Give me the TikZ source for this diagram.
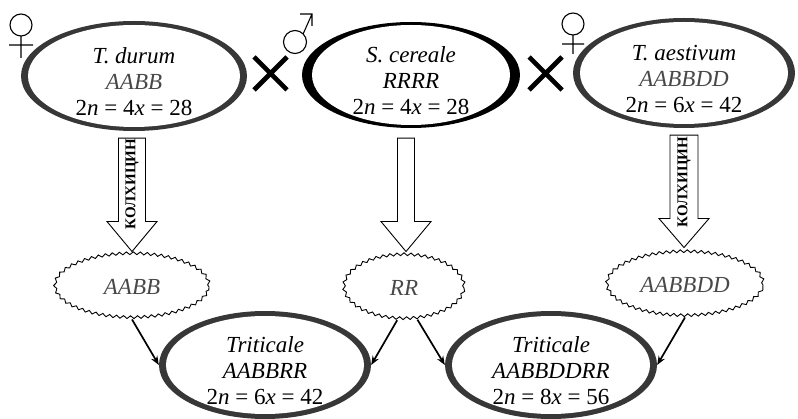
\documentclass[tikz,border=0pt]{standalone}
\usepackage{fontspec}
\setmainfont{Liberation Serif}[Ligatures=TeX]
\usetikzlibrary{shapes.geometric, decorations.pathmorphing, arrows.meta, calc}

\definecolor{ringdark}{RGB}{55,55,55}
\definecolor{genome}{RGB}{72,72,72}

\begin{document}
\begin{tikzpicture}[x=1pt, y=-1pt,
  ring/.style={ellipse, inner sep=0pt, fill=#1},
  maintext/.style={align=center, inner sep=0pt, font=\fontsize{23}{26}\selectfont},
  wavy/.style={ellipse, inner sep=0pt, draw=black, line width=0.9pt,
    decorate, decoration={snake, amplitude=1.4pt, segment length=7pt},
    font=\fontsize{23}{26}\selectfont\itshape, text=genome},
  blockarrow/.style={draw=black, line width=0.9pt, fill=white, line join=miter},
  colch/.style={rotate=90, inner sep=0pt, font=\fontsize{15}{15}\selectfont\bfseries},
  conn/.style={draw=black, line width=1.7pt, -{Stealth[length=9pt, width=7pt]}},
  sexsym/.style={draw=black, line width=1.1pt},
  crossmark/.style={draw=black, line width=4.6pt}
]
\useasboundingbox (0,0) rectangle (798,419);

% ---- parent species (top row) ----
\node[ring=ringdark, minimum width=226pt, minimum height=110pt] (durum) at (134,76) {};
\fill[white] (durum.center) ellipse [x radius=106pt, y radius=51pt];
\node[maintext] at ($(durum.center)+(0,6)$) {\itshape T. durum\\\itshape\color{genome}AABB\\2\textit{n} = 4\textit{x} = 28};

\node[ring=black, minimum width=218pt, minimum height=106pt] (cereale) at (411,75) {};
\fill[white] (cereale.center) ellipse [x radius=99pt, y radius=50pt];
\node[maintext] at ($(cereale.center)+(0,6)$) {\itshape S. cereale\\\itshape RRRR\\2\textit{n} = 4\textit{x} = 28};

\node[ring=ringdark, minimum width=222pt, minimum height=110pt] (aestivum) at (684,73) {};
\fill[white] (aestivum.center) ellipse [x radius=104pt, y radius=51pt];
\node[maintext] at ($(aestivum.center)+(0,6)$) {\itshape T. aestivum\\\itshape\color{genome}AABBDD\\2\textit{n} = 6\textit{x} = 42};

% ---- cross marks ----
\draw[crossmark] (254,57) -- (287,90) (254,90) -- (287,57);
\draw[crossmark] (529,57) -- (562,90) (529,90) -- (562,57);

% ---- sex symbols ----
\draw[sexsym] (21,25) circle [radius=11pt] (21,36) -- (21,58) (9,45) -- (33,45);
\draw[sexsym] (573,24) circle [radius=11pt] (573,35) -- (573,54) (562,44) -- (584,44);
\draw[sexsym] (295,42) circle [radius=11.5pt]
  ($(295,42)+(8.2,-8.2)$) -- (312,14) (300,14) -- (312,14) -- (312,26);

% ---- gametes / doubled genomes (middle row) ----
\node[wavy, minimum width=154pt, minimum height=64pt] (aabb) at (132,287) {AABB};
\node[wavy, minimum width=120pt, minimum height=64pt] (rr) at (404,288) {RR};
\node[wavy, minimum width=156pt, minimum height=64pt] (aabbdd) at (685,285) {AABBDD};

% ---- block arrows ----
\draw[blockarrow] let \p1=($(durum.south)+(-2,7)$), \p2=($(aabb.north)+(0,-3)$) in
  (\x1-13.5pt,\y1) -- (\x1+13.5pt,\y1) -- (\x1+13.5pt,\y2+30pt) -- (\x1+25pt,\y2+30pt)
  -- (\x1,\y2) -- (\x1-25pt,\y2+30pt) -- (\x1-13.5pt,\y2+30pt) -- cycle;
\node[colch] (colchA) at (132,184) {КОЛХИЦИН};

\draw[blockarrow] let \p1=($(cereale.south)+(-5,10)$), \p2=($(rr.north)+(0,-4)$) in
  (\x1-8.5pt,\y1) -- (\x1+8.5pt,\y1) -- (\x1+8.5pt,\y2+30pt) -- (\x1+25pt,\y2+30pt)
  -- (\x1,\y2) -- (\x1-25pt,\y2+30pt) -- (\x1-8.5pt,\y2+30pt) -- cycle;

\draw[blockarrow] let \p1=($(aestivum.south)+(0,7)$), \p2=($(aabbdd.north)+(0,-5)$) in
  (\x1-14pt,\y1) -- (\x1+14pt,\y1) -- (\x1+14pt,\y2+29pt) -- (\x1+25pt,\y2+29pt)
  -- (\x1,\y2) -- (\x1-25pt,\y2+29pt) -- (\x1-14pt,\y2+29pt) -- cycle;
\node[colch] (colchB) at (684,182) {КОЛХИЦИН};

% ---- triticale hybrids (bottom row) ----
\node[ring=ringdark, minimum width=212pt, minimum height=108pt] (tritA) at (265,365) {};
\fill[white] (tritA.center) ellipse [x radius=99pt, y radius=49pt];
\node[maintext] at ($(tritA.center)+(0,6)$) {\itshape Triticale\\\itshape AABBRR\\2\textit{n} = 6\textit{x} = 42};

\node[ring=ringdark, minimum width=212pt, minimum height=108pt] (tritB) at (551,365) {};
\fill[white] (tritB.center) ellipse [x radius=99pt, y radius=49pt];
\node[maintext] at ($(tritB.center)+(0,6)$) {\itshape Triticale\\\itshape AABBDDRR\\2\textit{n} = 8\textit{x} = 56};

% ---- connectors ----
\draw[conn] (aabb.south) -- (tritA.west);
\draw[conn] (rr.258) -- (tritA.east);
\draw[conn] (rr.293) -- (tritB.west);
\draw[conn] (aabbdd.south) -- (tritB.east);
\end{tikzpicture}
\end{document}
